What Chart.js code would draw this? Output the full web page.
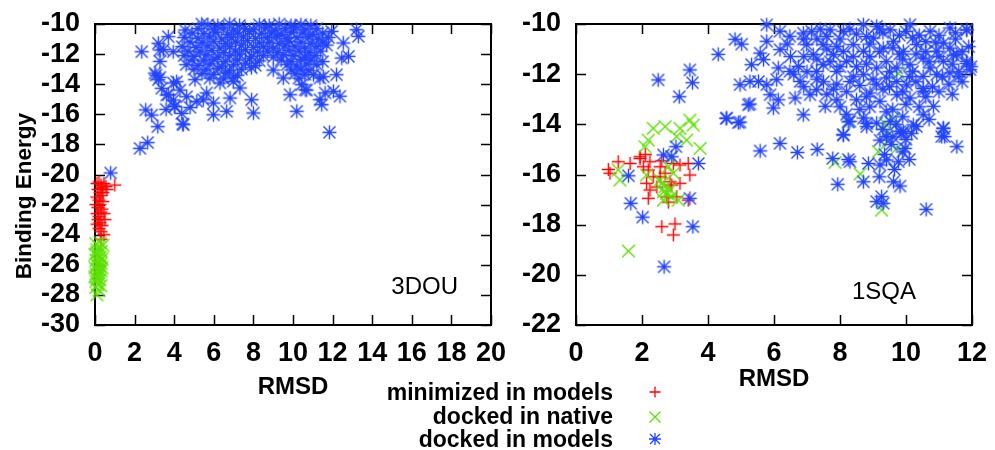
<!DOCTYPE html>
<html>
<head>
<meta charset="utf-8">
<script src="https://cdn.jsdelivr.net/npm/chart.js@4.4.1/dist/chart.umd.min.js"></script>
<style>
  body { margin: 0; background: #fff; width: 995px; height: 450px; overflow: hidden; position: relative; font-family: "Liberation Sans", Arial, sans-serif; }
  canvas { position: absolute; top: 0; }
  #left { left: 0; }
  #right { left: 510px; }
  .leg { position: absolute; right: 382px; font-weight: bold; font-size: 23px; line-height: 24px; color: #000; white-space: nowrap; }
  .sym { position: absolute; left: 647px; }
</style>
</head>
<body>
<canvas id="left" width="510" height="450"></canvas>
<canvas id="right" width="485" height="450"></canvas>

<div class="leg" style="top:380px">minimized in models</div>
<div class="leg" style="top:404px">docked in native</div>
<div class="leg" style="top:427px">docked in models</div>
<svg class="sym" style="top:384px" width="16" height="16"><path d="M2.5 8H13.5M8 2.5V13.5" stroke="#ff0000" stroke-width="1.3"/></svg>
<svg class="sym" style="top:409px" width="16" height="16"><path d="M2.5 2.5L13.5 13.5M13.5 2.5L2.5 13.5" stroke="#5ce000" stroke-width="1.3"/></svg>
<svg class="sym" style="top:431px" width="16" height="16"><path d="M2 8H14M8 2V14M3 3L13 13M13 3L3 13" stroke="#2244ff" stroke-width="1.3"/></svg>

<script>
"use strict";

var x_ticks_left = [0, 2, 4, 6, 8, 10, 12, 14, 16, 18, 20];
var y_ticks_left = [-30, -28, -26, -24, -22, -20, -18, -16, -14, -12, -10];
var x_ticks_right = [0, 2, 4, 6, 8, 10, 12];
var y_ticks_right = [-22, -20, -18, -16, -14, -12, -10];
var series_names = ["minimized in models", "docked in native", "docked in models"];

// 3DOU panel
var dou_minimized = [
  [0.10,-20.6],[0.20,-20.5],[0.30,-20.7],[0.45,-20.6],[1.00,-20.7],[0.15,-21.0],[0.25,-21.2],[0.35,-20.9],
  [0.10,-21.5],[0.20,-21.7],[0.30,-21.4],[0.40,-21.8],[0.05,-22.0],[0.15,-22.2],[0.25,-22.0],[0.35,-22.3],
  [0.10,-22.6],[0.20,-22.8],[0.30,-22.5],[0.15,-23.0],[0.25,-23.2],[0.35,-23.4],[0.20,-23.6],[0.30,-23.8],
  [0.45,-24.0],[0.30,-24.3],[0.40,-21.2],[0.45,-22.6],[0.50,-23.0],[0.10,-23.3],[0.55,-20.8],[0.60,-21.0]
];
var dou_native = [
  [0.05,-24.6],[0.20,-24.8],[0.10,-25.0],[0.30,-25.1],[0.00,-25.3],[0.15,-25.4],[0.25,-25.5],[0.05,-25.7],
  [0.20,-25.8],[0.35,-25.6],[0.10,-26.0],[0.25,-26.1],[0.00,-26.2],[0.15,-26.3],[0.30,-26.4],[0.05,-26.6],
  [0.20,-26.7],[0.10,-26.9],[0.25,-27.0],[0.15,-27.3],[0.05,-27.5],[0.20,-27.7],[0.10,-28.0],[0.30,-25.9],
  [0.00,-26.8],[0.35,-26.2],[0.10,-25.2],[0.20,-26.5],[0.05,-27.1],[0.30,-27.4],[0.40,-24.7],[0.25,-24.5]
];
var dou_models = [
  [0.79,-19.9],[2.36,-11.84],[2.27,-18.26],[2.66,-17.88],[3.17,-16.82],[2.86,-16.05],[2.56,-15.71],[3.59,-15.67],
  [4.43,-16.64],[4.38,-15.94],[4.01,-15.49],[4.80,-15.54],[3.08,-13.39],[3.28,-13.54],[3.37,-14.27],[3.62,-14.72],
  [3.96,-15.05],[4.12,-13.83],[4.29,-14.39],[4.63,-14.83],[3.95,-11.84],[3.28,-11.73],[3.20,-11.28],[3.70,-10.84],
  [4.55,-10.40],[5.39,-10.0],[3.45,-11.70],[3.28,-12.48],[3.03,-13.26],[3.20,-13.70],[3.70,-14.70],[4.04,-15.47],
  [4.46,-16.69],[3.96,-13.92],[5.14,-15.14],[5.47,-15.03],[5.98,-16.03],[6.65,-15.80],[6.82,-14.92],[7.32,-14.25],
  [7.91,-15.03],[8.00,-15.91],[5.98,-15.25],[5.64,-14.58],[5.05,-13.70],[6.31,-13.92],[6.98,-13.81],[9.51,-13.59],
  [9.85,-14.70],[10.19,-15.80],[10.44,-14.03],[10.61,-14.37],[11.36,-15.03],[11.45,-15.36],[11.62,-14.58],[12.04,-14.47],
  [12.37,-14.80],[12.20,-13.37],[12.46,-12.26],[12.80,-12.15],[12.54,-11.26],[13.21,-10.38],[13.30,-10.82],[11.84,-17.20],
  [11.95,-10.49],[11.36,-13.59],[11.03,-13.37],[9.00,-13.06],[10.69,-14.39],[11.53,-13.50],
  [5.7,-10.05],[6.2,-10.1],[6.8,-10.0],[7.3,-10.1],[8.3,-10.05],[8.8,-10.1],[9.3,-10.0],[9.9,-10.1],[10.4,-10.05],[10.9,-10.1],
  [5.2,-10.3],[6.0,-10.35],[6.5,-10.25],[7.0,-10.4],[7.6,-10.3],[8.0,-10.35],[8.6,-10.25],[9.1,-10.4],[9.6,-10.3],[10.1,-10.2],[10.6,-10.35],[11.2,-10.3],
  [4.9,-10.6],[5.5,-10.65],[6.1,-10.55],[6.7,-10.7],[7.2,-10.6],[7.8,-10.5],[8.4,-10.65],[8.9,-10.6],[9.4,-10.7],[9.9,-10.55],[10.5,-10.6],[11.0,-10.7],[11.5,-10.6],
  [4.5,-10.9],[5.2,-10.95],[5.8,-10.85],[6.4,-11.0],[6.9,-10.9],[7.5,-10.85],[8.1,-10.95],[8.7,-10.9],[9.2,-10.8],[9.7,-10.95],[10.2,-10.9],[10.8,-10.85],[11.3,-11.0],[11.8,-10.9],
  [4.8,-11.2],[5.4,-11.25],[6.0,-11.15],[6.6,-11.3],[7.1,-11.2],[7.7,-11.1],[8.3,-11.25],[8.8,-11.2],[9.3,-11.3],[9.8,-11.15],[10.4,-11.2],[10.9,-11.3],[11.5,-11.2],
  [4.4,-11.5],[5.1,-11.55],[5.7,-11.45],[6.3,-11.6],[6.8,-11.5],[7.4,-11.4],[8.0,-11.55],[8.5,-11.5],[9.0,-11.6],[9.6,-11.45],[10.1,-11.5],[10.6,-11.6],[11.2,-11.5],[11.7,-11.4],
  [4.7,-11.8],[5.3,-11.85],[5.9,-11.75],[6.5,-11.9],[7.1,-11.8],[7.6,-11.7],[8.2,-11.85],[8.7,-11.8],[9.2,-11.9],[9.8,-11.75],[10.3,-11.8],[10.8,-11.9],[11.4,-11.8],
  [4.5,-12.1],[5.0,-12.15],[5.6,-12.05],[6.2,-12.2],[6.8,-12.1],[7.3,-12.0],[7.9,-12.15],[8.5,-12.1],[9.0,-12.2],[9.5,-12.05],[10.0,-12.1],[10.6,-12.2],[11.1,-12.1],
  [4.9,-12.4],[5.5,-12.45],[6.0,-12.35],[6.6,-12.5],[7.2,-12.4],[7.8,-12.3],[8.3,-12.45],[9.4,-12.4],[9.9,-12.5],[10.4,-12.35],[10.9,-12.4],[11.5,-12.5],
  [4.6,-12.7],[5.2,-12.75],[5.8,-12.65],[6.4,-12.8],[7.0,-12.7],[7.6,-12.6],[8.1,-12.75],[9.7,-12.7],[10.2,-12.8],[10.7,-12.65],[11.2,-12.7],
  [5.0,-13.0],[5.6,-13.05],[6.2,-12.95],[6.8,-13.1],[7.4,-13.0],[7.9,-12.9],[9.9,-13.05],[10.4,-13.0],[10.8,-13.1],
  [5.4,-13.3],[6.0,-13.35],[6.6,-13.25],[7.2,-13.4],[10.1,-13.3],[10.6,-13.35],
  [5.8,-13.6],[6.5,-13.65],[7.0,-13.55],[10.3,-13.6]
];

// 1SQA panel
var sqa_minimized = [
  [1.03,-15.95],[0.98,-15.80],[1.28,-15.49],[1.64,-15.56],[1.94,-15.29],[2.04,-15.69],[2.24,-15.49],[2.19,-15.82],
  [2.34,-16.09],[2.14,-16.35],[2.24,-16.62],[2.19,-16.95],[2.55,-15.69],[2.70,-15.95],[2.85,-16.29],[2.95,-15.56],
  [3.15,-15.62],[3.40,-15.56],[3.45,-16.02],[3.40,-17.02],[3.05,-16.89],[2.75,-16.89],[2.90,-16.42],[2.60,-18.08],
  [3.00,-17.97],[2.95,-18.41],[2.55,-16.09],[3.15,-16.35],[1.94,-15.36],[2.60,-15.45],[2.10,-15.20],[2.45,-16.50],[2.80,-17.10]
];
var sqa_native = [
  [2.34,-14.16],[2.70,-14.09],[2.19,-14.63],[2.09,-14.89],[3.15,-14.16],[3.45,-13.83],[3.55,-14.03],[3.05,-14.49],
  [3.35,-14.63],[3.76,-14.96],[1.28,-15.82],[1.33,-16.22],[2.14,-16.02],[2.55,-16.22],[2.70,-16.49],[2.75,-16.75],
  [2.90,-16.89],[2.95,-15.95],[2.80,-15.69],[3.10,-17.02],[2.65,-17.02],[2.90,-15.29],[1.59,-19.05],[2.65,-16.69],
  [2.85,-16.60],[2.60,-16.35],[7.85,-15.52],[8.61,-15.98],[9.26,-17.42],[9.16,-15.09],[9.36,-13.96],[9.62,-13.76],
  [9.47,-14.63],[9.72,-14.96],[8.25,-13.90],[9.77,-11.97],[9.45,-14.30]
];
var sqa_models = [
  [2.49,-12.23],[3.45,-11.83],[3.53,-12.34],[3.13,-12.90],[4.31,-11.21],[4.82,-10.61],[4.55,-13.76],[4.92,-13.93],
  [3.03,-14.89],[2.65,-15.22],[2.90,-15.29],[3.71,-15.56],[1.59,-16.05],[1.66,-17.15],[2.02,-17.70],[3.45,-16.95],
  [2.67,-19.68],[3.54,-18.08],
  [5.58,-15.06],[6.18,-14.76],[6.71,-15.12],[7.31,-15.00],[7.78,-15.36],[8.10,-14.43],[7.93,-16.39],[8.25,-15.40],
  [8.71,-16.29],[8.86,-15.56],[9.21,-15.62],[9.19,-16.09],[9.41,-15.42],[9.62,-16.29],[9.82,-16.46],[9.77,-15.49],
  [9.11,-17.08],[9.26,-16.88],[9.31,-17.15],[10.61,-17.39],[11.13,-14.16],[11.54,-14.89],[11.08,-14.49],[8.25,-13.90],
  [8.81,-13.96],[9.92,-14.29],[10.17,-14.36],[9.97,-14.96],[10.32,-14.09],[9.21,-14.63],[9.41,-14.49],[9.87,-14.36],[8.30,-15.49],
  [5.02,-10.80],[5.78,-10.03],[5.58,-11.16],[5.78,-10.69],[5.32,-11.62],[5.68,-11.42],[6.13,-11.75],[6.18,-11.02],
  [6.48,-10.49],[6.89,-10.36],[7.14,-10.29],[6.18,-10.29],[6.08,-12.22],[6.48,-11.89],[6.74,-11.69],[6.79,-12.29],
  [4.97,-12.42],[5.27,-12.29],[5.53,-12.29],[5.78,-12.42],[5.88,-12.82],[6.13,-13.02],[5.22,-13.22],[5.98,-13.35],
  [6.64,-12.95],[6.89,-13.62],[4.57,-13.75],[4.97,-13.91],[5.27,-13.19],
  [7.09,-12.82],[7.29,-12.62],[7.55,-13.28],[7.90,-13.02],[8.30,-13.88],[8.10,-14.41],[8.71,-13.75],[9.11,-13.95],
  [9.52,-13.88],[9.82,-14.28],[10.22,-14.02],[10.52,-13.62],[10.83,-13.28],[11.13,-14.15],[10.12,-12.95],[10.52,-12.68],
  [9.72,-12.82],[9.21,-13.08],[8.91,-12.75],[8.50,-13.02],[9.41,-12.15],[9.72,-12.29],[10.02,-12.42],[10.52,-12.09],
  [10.93,-12.02],[11.33,-11.95],[11.54,-11.22],[11.84,-11.49],[11.94,-11.82],[11.33,-10.96],[11.13,-10.76],[11.84,-10.23],
  [11.33,-10.16],[10.73,-10.29],[10.12,-10.03],[9.52,-10.23],[9.11,-10.09],[8.71,-10.03],[8.10,-10.29],[7.70,-10.23],
  [7.49,-10.82],[7.80,-11.22],[7.49,-11.62],[7.90,-11.89],[8.20,-11.49],[8.40,-10.82],[8.71,-11.09],[9.01,-10.56],
  [9.31,-10.96],[9.62,-10.69],[9.92,-11.09],[10.32,-10.82],[10.52,-11.36],[10.12,-11.62],[9.72,-11.75],[9.11,-11.75],
  [8.71,-12.02],[8.30,-12.29],[7.29,-11.89],[7.19,-11.22],[6.99,-10.82],[11.13,-11.49],[10.73,-11.75],[10.93,-11.09],
  [11.17,-14.49],[8.81,-14.09],[10.52,-12.57],[11.44,-11.24],[11.84,-11.57],[11.84,-10.24],
  [7.60,-10.50],[8.00,-10.60],[8.50,-10.40],[8.90,-10.80],[9.30,-10.35],[9.80,-10.45],[10.20,-10.55],[10.60,-10.70],
  [11.00,-10.45],[11.50,-10.60],[11.90,-10.90],[7.70,-11.50],[8.10,-11.10],[8.50,-11.70],[8.90,-11.30],[9.40,-11.50],
  [9.90,-11.40],[10.30,-11.20],[10.70,-11.50],[11.10,-12.10],[11.60,-11.90],[7.50,-12.30],[7.90,-12.40],[8.20,-12.70],
  [8.60,-12.45],[9.00,-12.20],[9.30,-12.60],[9.90,-12.70],[10.30,-12.30],[10.80,-12.50],[11.30,-12.40],[6.40,-10.80],
  [6.90,-11.30],[7.30,-10.60],[6.60,-12.00],[7.00,-11.90],[7.60,-12.80],[8.00,-13.30],[8.60,-13.40],[9.60,-13.40],
  [10.00,-13.20],[10.40,-13.30],[11.40,-12.80],[11.70,-12.30],[11.97,-11.70],
  [9.40,-13.50],[9.70,-14.00],[9.55,-14.80],[9.90,-15.10],[9.35,-15.20],[9.65,-15.80],[10.10,-15.40],
  [6.90,-10.60],[7.40,-10.20],[7.90,-10.90],[8.30,-10.20],[8.80,-10.50],[9.20,-10.20],[9.60,-10.95],[10.00,-10.30],
  [10.40,-10.45],[10.90,-10.75],[11.50,-10.35],[11.70,-11.10],[7.30,-11.40],[7.60,-11.00],[8.00,-11.70],[8.40,-11.30],
  [8.80,-11.60],[9.20,-11.10],[9.50,-11.90],[9.80,-11.20],[10.20,-11.90],[10.60,-11.10],[11.00,-11.30],[11.40,-11.60],
  [7.80,-12.60],[8.40,-12.10],[8.80,-12.90],[9.10,-12.40],[9.50,-12.50],[10.10,-12.10],[10.60,-12.90],[11.00,-12.70],
  [11.60,-12.10],[6.50,-11.30],[6.90,-12.50],[7.30,-12.20],[8.20,-13.60],[8.90,-13.30],[9.90,-13.70],[10.70,-13.80],
  [9.30,-14.20],[9.60,-14.50],[10.00,-14.60]
];

var font_family = "'Liberation Sans', Arial, sans-serif";

// gnuplot-like marker glyphs used as Chart.js point styles
function make_marker(kind, color) {
  var size = 17, c = 8.5;
  var cv = document.createElement("canvas");
  cv.width = size; cv.height = size;
  var g = cv.getContext("2d");
  g.strokeStyle = color;
  g.lineWidth = 1.4;
  g.beginPath();
  if (kind === "plus" || kind === "star") {
    var p = kind === "plus" ? 6.5 : 7;
    g.moveTo(c - p, c); g.lineTo(c + p, c);
    g.moveTo(c, c - p); g.lineTo(c, c + p);
  }
  if (kind === "cross" || kind === "star") {
    var q = kind === "cross" ? 6.3 : 6;
    g.moveTo(c - q, c - q); g.lineTo(c + q, c + q);
    g.moveTo(c + q, c - q); g.lineTo(c - q, c + q);
  }
  g.stroke();
  return cv;
}

var marker_min = make_marker("plus", "#ff0000");
var marker_native = make_marker("cross", "#5ce000");
var marker_models = make_marker("star", "#2244ff");

function to_points(pairs) {
  return pairs.map(function(p) { return { x: p[0], y: p[1] }; });
}

function make_datasets(minimized, native, models) {
  return [
    { label: series_names[2], data: to_points(models), order: 0, pointStyle: marker_models, clip: false },
    { label: series_names[1], data: to_points(native), order: 1, pointStyle: marker_native, clip: false },
    { label: series_names[0], data: to_points(minimized), order: 2, pointStyle: marker_min, clip: false }
  ];
}

// gnuplot style frame with inward ticks on all four sides
var frame_plugin = {
  id: "frame",
  beforeDatasetsDraw: function(chart, args, opts) {
    var ctx = chart.ctx, a = chart.chartArea;
    var xs = chart.scales.x, ys = chart.scales.y;
    ctx.save();
    ctx.strokeStyle = "#000";
    ctx.lineWidth = 1.5;
    ctx.beginPath();
    xs.ticks.forEach(function(t) {
      var px = Math.round(xs.getPixelForValue(t.value)) + 0.5;
      ctx.moveTo(px, a.bottom); ctx.lineTo(px, a.bottom - 10);
      ctx.moveTo(px, a.top); ctx.lineTo(px, a.top + 10);
    });
    ys.ticks.forEach(function(t) {
      var py = Math.round(ys.getPixelForValue(t.value)) + 0.5;
      ctx.moveTo(a.left, py); ctx.lineTo(a.left + 10, py);
      ctx.moveTo(a.right, py); ctx.lineTo(a.right - 10, py);
    });
    ctx.stroke();
    ctx.lineWidth = 2;
    ctx.strokeRect(a.left, a.top, a.right - a.left, a.bottom - a.top);

    ctx.fillStyle = "#000";
    ctx.font = "24px " + font_family;
    ctx.textAlign = "right";
    ctx.textBaseline = "middle";
    ctx.fillText(opts.label, a.right + opts.labelDx, a.bottom + opts.labelDy);

    if (opts.yTitle) {
      ctx.font = "bold 22.5px " + font_family;
      ctx.translate(opts.yTitleX, opts.yTitleY);
      ctx.rotate(-Math.PI / 2);
      ctx.textAlign = "center";
      ctx.fillText(opts.yTitle, 0, 0);
    }
    ctx.restore();
  }
};

function init_chart(canvas, datasets, xticks, yticks, layout, frame) {
  return new Chart(canvas, {
    type: "scatter",
    data: { datasets: datasets },
    plugins: [frame_plugin],
    options: {
      responsive: false,
      animation: false,
      events: [],
      layout: { padding: layout.padding },
      plugins: { legend: { display: false }, tooltip: { enabled: false }, frame: frame },
      scales: {
        x: {
          type: "linear",
          min: xticks[0], max: xticks[xticks.length - 1],
          afterBuildTicks: function(s) { s.ticks = xticks.map(function(v) { return { value: v }; }); },
          afterFit: function(s) {
            s.height = layout.xHeight;
            s.paddingLeft = 0; s.paddingRight = 0; s.paddingTop = 0; s.paddingBottom = 0;
          },
          grid: { display: false, drawTicks: false },
          border: { display: false },
          ticks: { autoSkip: false, maxRotation: 0, padding: 12, color: "#000", font: { family: font_family, size: 27, weight: "bold" } },
          title: { display: true, text: "RMSD", color: "#000", padding: 0, font: { family: font_family, size: 24, weight: "bold" } }
        },
        y: {
          type: "linear",
          min: yticks[0], max: yticks[yticks.length - 1],
          afterBuildTicks: function(s) { s.ticks = yticks.map(function(v) { return { value: v }; }); },
          afterFit: function(s) {
            s.width = layout.yWidth;
            s.paddingLeft = 0; s.paddingRight = 0; s.paddingTop = 0; s.paddingBottom = 0;
          },
          grid: { display: false, drawTicks: false },
          border: { display: false },
          ticks: { autoSkip: false, padding: 15, color: "#000", font: { family: font_family, size: 27, weight: "bold" } }
        }
      }
    }
  });
}

init_chart(document.getElementById("left"),
  make_datasets(dou_minimized, dou_native, dou_models),
  x_ticks_left, y_ticks_left,
  { padding: { left: 0, right: 19, top: 24, bottom: 48 }, xHeight: 77, yWidth: 95 },
  { label: "3DOU", labelDx: -33, labelDy: -38, yTitle: "Binding Energy", yTitleX: 25, yTitleY: 196 });

init_chart(document.getElementById("right"),
  make_datasets(sqa_minimized, sqa_native, sqa_models),
  x_ticks_right, y_ticks_right,
  { padding: { left: 0, right: 23, top: 24, bottom: 56 }, xHeight: 69, yWidth: 66 },
  { label: "1SQA", labelDx: -56, labelDy: -33 });
</script>
</body>
</html>
